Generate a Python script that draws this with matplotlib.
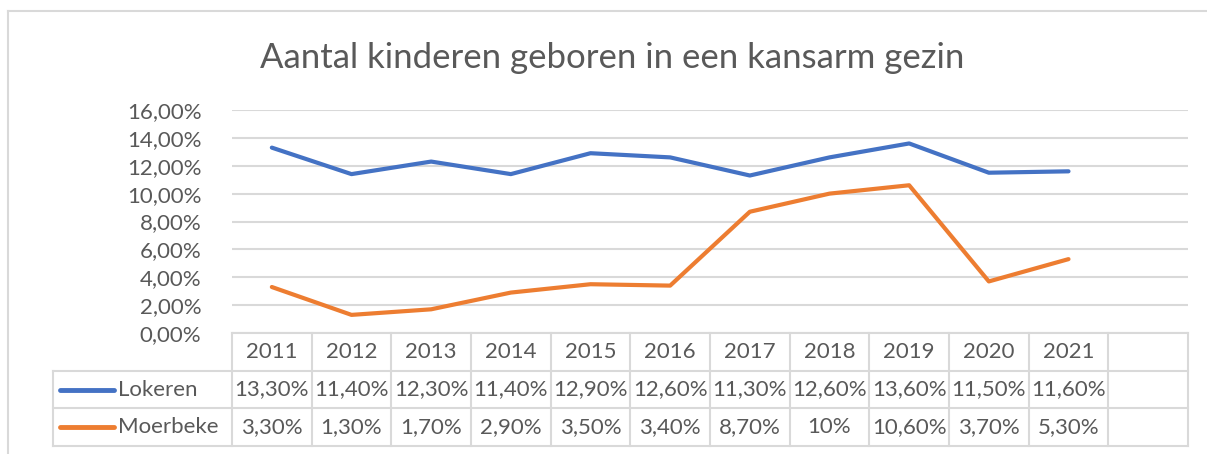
import matplotlib.pyplot as plt
from matplotlib.lines import Line2D

# data
years = [2011, 2012, 2013, 2014, 2015, 2016, 2017, 2018, 2019, 2020, 2021]
lokeren = [0.133, 0.114, 0.123, 0.114, 0.129, 0.126, 0.113, 0.126, 0.136, 0.115, 0.116]
moerbeke = [0.033, 0.013, 0.017, 0.029, 0.035, 0.034, 0.087, 0.10, 0.106, 0.037, 0.053]
series_names = ["Lokeren", "Moerbeke"]
y_ticks = [0, 0.02, 0.04, 0.06, 0.08, 0.10, 0.12, 0.14, 0.16]

BLUE = "#4472C4"
ORANGE = "#ED7D31"
GRID = "#d9d9d9"
TXT = "#595959"
FONT = "Lato"

W, H = 1207, 454


def pct(v):
    return f"{v * 100:.2f}%".replace(".", ",")


lok_txt = [pct(v) for v in lokeren]
moe_txt = [pct(v) for v in moerbeke]
moe_txt[7] = "10%"   # excel shows this cell without decimals

plt.rcParams["font.family"] = [FONT, "DejaVu Sans"]

fig = plt.figure(figsize=(W / 100, H / 100), dpi=100)

# outer chart border
fig.add_artist(Line2D([7.5 / W, 7.5 / W], [0, 1 - 11 / H], color=GRID, lw=1.5))
fig.add_artist(Line2D([7.5 / W, 1], [1 - 11 / H, 1 - 11 / H], color=GRID, lw=1.5))

fig.text(612 / W, 1 - 58 / H, "Aantal kinderen geboren in een kansarm gezin",
         ha="center", va="center", fontsize=25, color=TXT)

# plot area
x0, x1 = 232, 1188
ax = fig.add_axes([x0 / W, 1 - 333 / H, (x1 - x0) / W, (333 - 110) / H])
n = len(years) + 1
xs = list(range(len(years)))
ax.plot(xs, lokeren, color=BLUE, lw=3, solid_capstyle="round", zorder=3)
ax.plot(xs, moerbeke, color=ORANGE, lw=3, solid_capstyle="round", zorder=3)
ax.set_xlim(-0.5, n - 0.5)
ax.set_ylim(0, 0.16)
ax.set_yticks(y_ticks)
ax.set_yticklabels([pct(v) for v in y_ticks])
ax.set_xticks([])
ax.tick_params(axis="y", length=0, pad=22, labelsize=16, labelcolor=TXT)
for s in ax.spines.values():
    s.set_visible(False)
ax.grid(axis="y", color=GRID, lw=1.5)
ax.set_axisbelow(True)

# data table
tb = fig.add_axes([x0 / W, 1 - 446 / H, (x1 - x0) / W, (446 - 333) / H])
tb.set_xlim(-0.5, n - 0.5)
tb.set_ylim(3, 0)
tb.axis("off")
left_x = -0.5 - (x0 - 53) / ((x1 - x0) / n)
lk = dict(color=GRID, lw=1.5, clip_on=False)
tb.plot([-0.5, n - 0.5], [0, 0], **lk)
for r in [1, 2, 3]:
    tb.plot([left_x, n - 0.5], [r, r], **lk)
for i in range(n + 1):
    tb.plot([i - 0.5, i - 0.5], [0, 3], **lk)
tb.plot([left_x, left_x], [1, 3], **lk)

fs = 16
for i, yr in enumerate(years):
    tb.text(i, 0.5, str(yr), ha="center", va="center", fontsize=fs, color=TXT)
    tb.text(i, 1.5, lok_txt[i], ha="center", va="center", fontsize=fs, color=TXT)
    tb.text(i, 2.5, moe_txt[i], ha="center", va="center", fontsize=fs, color=TXT)

unit = (x1 - x0) / n
for r, (name, col) in enumerate(zip(series_names, [BLUE, ORANGE])):
    xa = -0.5 - (x0 - 60) / unit
    xb = -0.5 - (x0 - 114) / unit
    tb.plot([xa, xb], [1.5 + r, 1.5 + r], color=col, lw=3.5,
            solid_capstyle="round", clip_on=False)
    tb.text(-0.5 - (x0 - 118) / unit, 1.5 + r, name, ha="left", va="center",
            fontsize=fs, color=TXT)

fig.savefig("out.png", dpi=100)
